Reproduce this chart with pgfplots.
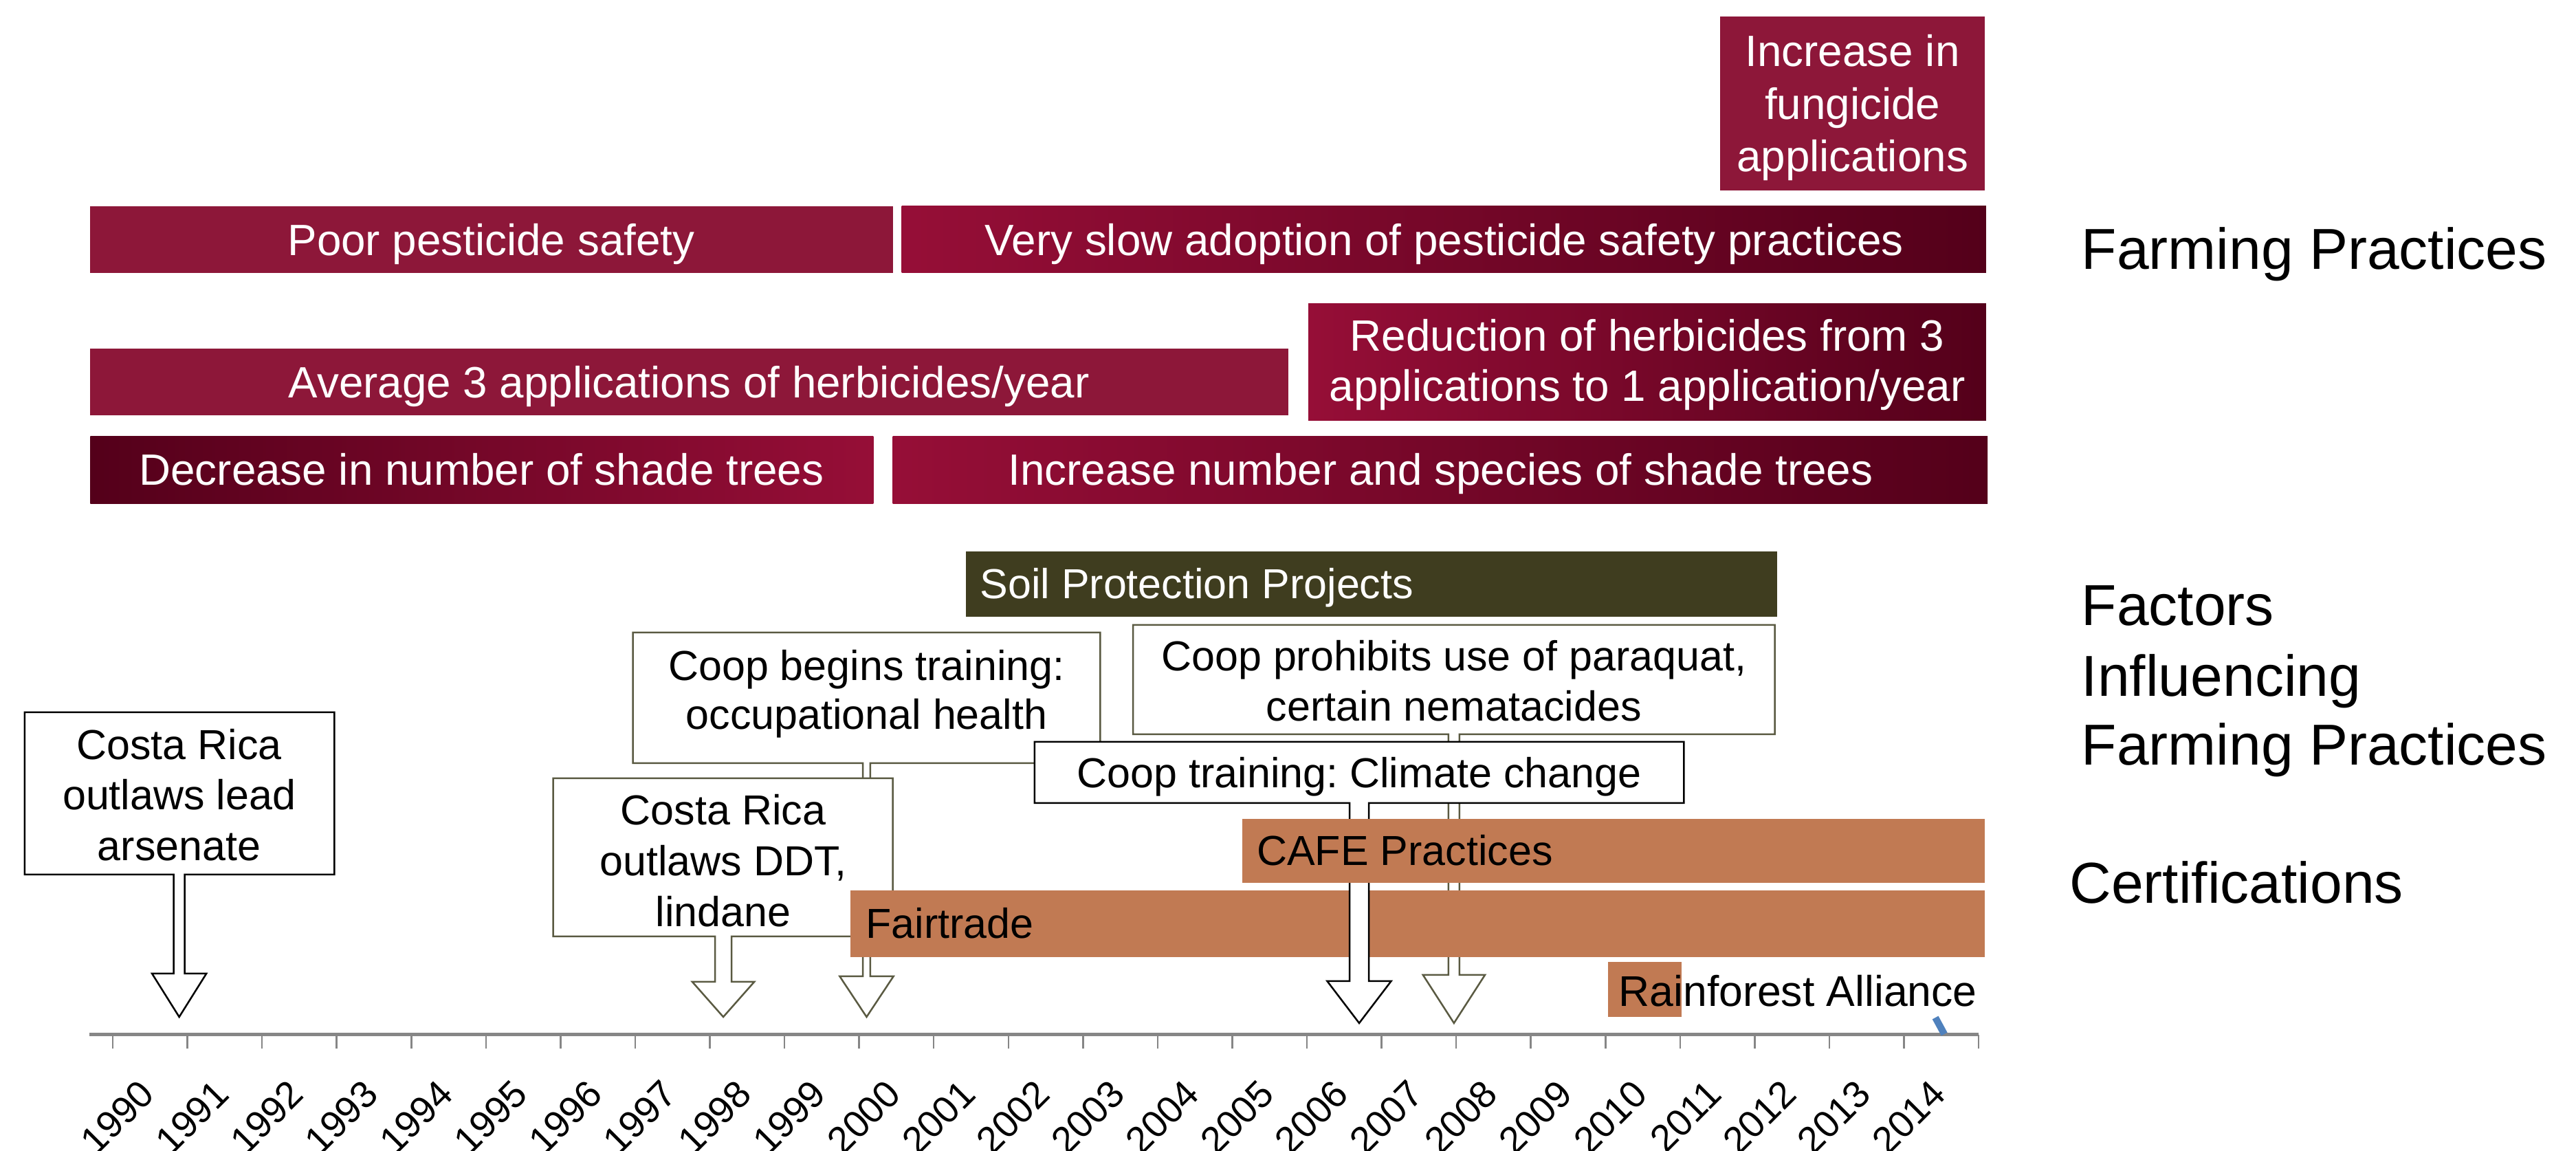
\documentclass[border=0pt]{standalone}
\usepackage{pgfplots}
\pgfplotsset{compat=1.18}
\usepackage{fontspec}
\setmainfont{Liberation Sans}
\frenchspacing
\definecolor{burg}{RGB}{141,23,57}
\definecolor{crim}{RGB}{150,14,55}
\definecolor{darkb}{RGB}{84,0,26}
\definecolor{soil}{RGB}{63,61,31}
\definecolor{cert}{RGB}{193,122,83}
\definecolor{axgray}{RGB}{134,134,134}
\definecolor{olive}{RGB}{90,90,66}
\definecolor{tickblue}{RGB}{79,129,189}
\newcommand\fa{\fontsize{12.75}{15}\selectfont}
\newcommand\fb{\fontsize{12.2}{14.5}\selectfont}
\newcommand\fc{\fontsize{16.8}{20}\selectfont}
\begin{document}
\begin{tikzpicture}
\begin{axis}[
  scale only axis, width=749.4pt, height=334.6pt,
  xmin=1987.989, xmax=2022.504, ymin=-168, ymax=1505,
  axis x line=middle, axis y line=none,
  axis line style={draw=none},
  xtick={1990,1991,1992,1993,1994,1995,1996,1997,1998,1999,2000,2001,2002,2003,2004,2005,2006,2007,2008,2009,2010,2011,2012,2013,2014},
  xticklabels={1990,1991,1992,1993,1994,1995,1996,1997,1998,1999,2000,2001,2002,2003,2004,2005,2006,2007,2008,2009,2010,2011,2012,2013,2014},
  major tick length=0pt,
  xticklabel style={xshift=-0.7pt, yshift=-15.2pt, rotate=45, anchor=east, inner sep=0pt, font=\fontsize{11}{13}\selectfont},
  ytick=\empty,
  clip=false,
]
% Farming practices bars
\addplot[draw=none, fill=burg] coordinates {(2011.04,1228) (2014.58,1228) (2014.58,1481) (2011.04,1481)} -- cycle;
\addplot[draw=none, fill=burg] coordinates {(1989.20,1108) (1999.95,1108) (1999.95,1205) (1989.20,1205)} -- cycle;
\addplot[draw=none, left color=crim, right color=darkb] coordinates {(2000.07,1108) (2014.60,1108) (2014.60,1205) (2000.07,1205)} -- cycle;
\addplot[draw=none, fill=burg] coordinates {(1989.20,901) (2005.25,901) (2005.25,998) (1989.20,998)} -- cycle;
\addplot[draw=none, left color=crim, right color=darkb] coordinates {(2005.52,893) (2014.60,893) (2014.60,1063) (2005.52,1063)} -- cycle;
\addplot[draw=none, left color=darkb, right color=crim] coordinates {(1989.20,772) (1999.69,772) (1999.69,870) (1989.20,870)} -- cycle;
\addplot[draw=none, left color=crim, right color=darkb] coordinates {(1999.95,772) (2014.62,772) (2014.62,870) (1999.95,870)} -- cycle;
% Soil protection
\addplot[draw=none, fill=soil] coordinates {(2000.93,608) (2011.80,608) (2011.80,703) (2000.93,703)} -- cycle;
% callouts
\addplot[draw=olive, fill=white, line width=0.5pt] coordinates {(2003.17,596) (2011.77,596) (2011.77,437) (2007.544,437) (2007.544,87) (2007.885,87) (2007.47,17) (2007.055,87) (2007.396,87) (2007.396,437) (2003.17,437)} -- cycle;
\addplot[draw=olive, fill=white, line width=0.5pt] coordinates {(1996.47,585) (2002.73,585) (2002.73,395) (1999.65,395) (1999.65,85) (1999.96,85) (1999.60,26) (1999.24,85) (1999.55,85) (1999.55,395) (1996.47,395)} -- cycle;
\addplot[draw=black, fill=white, line width=0.5pt] coordinates {(1988.32,469) (1992.47,469) (1992.47,233) (1990.464,233) (1990.464,89) (1990.754,89) (1990.39,26) (1990.026,89) (1990.316,89) (1990.316,233) (1988.32,233)} -- cycle;
\addplot[draw=olive, fill=white, line width=0.5pt] coordinates {(1995.40,373) (1999.95,373) (1999.95,143) (1997.79,143) (1997.79,77) (1998.095,77) (1997.68,26) (1997.265,77) (1997.57,77) (1997.57,143) (1995.40,143)} -- cycle;
% Fairtrade
\addplot[draw=none, fill=cert] coordinates {(1999.38,113) (2014.58,113) (2014.58,210) (1999.38,210)} -- cycle;
% climate callout
\addplot[draw=black, fill=white, line width=0.5pt] coordinates {(2001.85,426) (2010.55,426) (2010.55,337) (2006.329,337) (2006.329,78) (2006.628,78) (2006.20,17) (2005.772,78) (2006.071,78) (2006.071,337) (2001.85,337)} -- cycle;
% CAFE
\addplot[draw=none, fill=cert] coordinates {(2004.63,221) (2014.58,221) (2014.58,314) (2004.63,314)} -- cycle;
% Rainforest
\addplot[draw=none, fill=cert] coordinates {(2009.53,26) (2010.52,26) (2010.52,106) (2009.53,106)} -- cycle;
% axis line and ticks
\addplot[draw=axgray, line width=1pt] coordinates {(1989.19,0) (2014.5,0)};
\addplot[ycomb, draw=axgray, line width=0.5pt] coordinates {(1989.5,-20) (1990.5,-20) (1991.5,-20) (1992.5,-20) (1993.5,-20) (1994.5,-20) (1995.5,-20) (1996.5,-20) (1997.5,-20) (1998.5,-20) (1999.5,-20) (2000.5,-20) (2001.5,-20) (2002.5,-20) (2003.5,-20) (2004.5,-20) (2005.5,-20) (2006.5,-20) (2007.5,-20) (2008.5,-20) (2009.5,-20) (2010.5,-20) (2011.5,-20) (2012.5,-20) (2013.5,-20) (2014.5,-20)};
\addplot[draw=tickblue, line width=2pt] coordinates {(2013.92,25) (2014.04,1)};
% texts in bars
\node[anchor=base, text=white, font=\fa] at (axis cs:2012.81,1408) {Increase in};
\node[anchor=base, text=white, font=\fa] at (axis cs:2012.81,1331) {fungicide};
\node[anchor=base, text=white, font=\fa] at (axis cs:2012.81,1255) {applications};
\node[anchor=base, text=white, font=\fa] at (axis cs:1994.57,1133) {Poor pesticide safety};
\node[anchor=base, text=white, font=\fa] at (axis cs:2007.34,1133) {Very slow adoption of pesticide safety practices};
\node[anchor=base, text=white, font=\fa] at (axis cs:1997.22,926) {Average 3 applications of herbicides/year};
\node[anchor=base, text=white, font=\fa] at (axis cs:2010.06,994) {Reduction of herbicides from 3};
\node[anchor=base, text=white, font=\fa] at (axis cs:2010.06,921) {applications to 1 application/year};
\node[anchor=base, text=white, font=\fa] at (axis cs:1994.44,799) {Decrease in number of shade trees};
\node[anchor=base, text=white, font=\fa] at (axis cs:2007.29,799) {Increase number and species of shade trees};
\node[anchor=base west, inner sep=0pt, text=white, font=\fb] at (axis cs:2001.11,634) {Soil Protection Projects};
% callout texts
\node[anchor=base, font=\fb] at (axis cs:1990.39,400) {Costa Rica};
\node[anchor=base, font=\fb] at (axis cs:1990.39,327) {outlaws lead};
\node[anchor=base, font=\fb] at (axis cs:1990.39,253) {arsenate};
\node[anchor=base, font=\fb] at (axis cs:1999.60,515) {Coop begins training:};
\node[anchor=base, font=\fb] at (axis cs:1999.60,444) {occupational health};
\node[anchor=base, font=\fb] at (axis cs:1997.68,305) {Costa Rica};
\node[anchor=base, font=\fb] at (axis cs:1997.68,231) {outlaws DDT,};
\node[anchor=base, font=\fb] at (axis cs:1997.68,157) {lindane};
\node[anchor=base, font=\fb] at (axis cs:2007.47,529) {Coop prohibits use of paraquat,};
\node[anchor=base, font=\fb] at (axis cs:2007.47,456) {certain nematacides};
\node[anchor=base, font=\fb] at (axis cs:2006.20,359) {Coop training: Climate change};
\node[anchor=base west, inner sep=0pt, font=\fb] at (axis cs:2004.82,246) {CAFE Practices};
\node[anchor=base west, inner sep=0pt, font=\fb] at (axis cs:1999.58,140) {Fairtrade};
\node[anchor=base west, inner sep=0pt, font=\fontsize{12.5}{15}\selectfont] at (axis cs:2009.67,41) {Rainforest Alliance};
% right labels
\node[anchor=base west, inner sep=0pt, font=\fc] at (axis cs:2015.87,1113) {Farming Practices};
\node[anchor=base west, inner sep=0pt, font=\fc] at (axis cs:2015.87,595) {Factors};
\node[anchor=base west, inner sep=0pt, font=\fc] at (axis cs:2015.87,492) {Influencing};
\node[anchor=base west, inner sep=0pt, font=\fc] at (axis cs:2015.87,392) {Farming Practices};
\node[anchor=base west, inner sep=0pt, font=\fc] at (axis cs:2015.71,191) {Certifications};
\coordinate (BL) at (axis cs:1987.989,-168);
\coordinate (TR) at (axis cs:2022.504,1505);
\end{axis}
\pgfresetboundingbox
\path[use as bounding box] (BL) rectangle (TR);
\end{tikzpicture}
\end{document}
